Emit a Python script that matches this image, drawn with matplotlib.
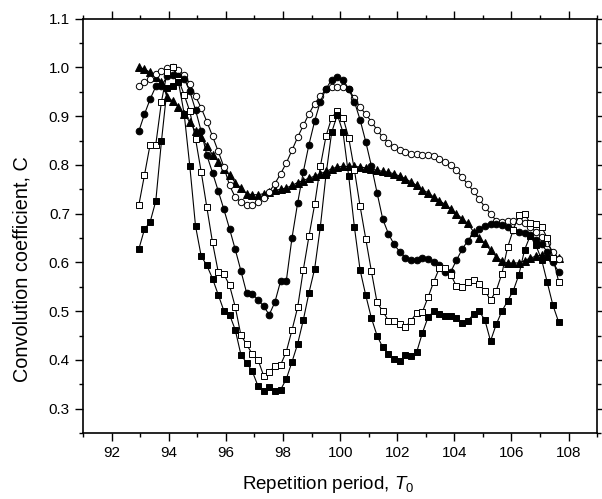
import numpy as np
import matplotlib
matplotlib.use("Agg")
import matplotlib.pyplot as plt
from matplotlib.ticker import MultipleLocator

plt.rcParams["font.family"] = ["Liberation Sans", "DejaVu Sans"]
plt.rcParams["mathtext.fontset"] = "custom"
plt.rcParams["mathtext.rm"] = "Liberation Sans"
plt.rcParams["mathtext.it"] = "Liberation Sans:italic"

# repetition period grid (75 samples)
period = np.linspace(92.95, 107.65, 75)

filled_squares = [
    0.627, 0.668, 0.683, 0.726, 0.849, 0.958, 0.962, 0.970, 0.905, 0.797,
    0.675, 0.613, 0.594, 0.567, 0.534, 0.501, 0.493, 0.462, 0.411, 0.394,
    0.377, 0.347, 0.337, 0.344, 0.337, 0.339, 0.361, 0.396, 0.433, 0.482,
    0.538, 0.587, 0.673, 0.780, 0.867, 0.903, 0.867, 0.777, 0.673, 0.585,
    0.533, 0.486, 0.450, 0.426, 0.412, 0.402, 0.398, 0.410, 0.408, 0.417,
    0.456, 0.488, 0.500, 0.494, 0.490, 0.490, 0.486, 0.475, 0.480, 0.494,
    0.500, 0.482, 0.439, 0.473, 0.500, 0.521, 0.542, 0.575, 0.626, 0.655,
    0.635, 0.606, 0.559, 0.512, 0.478,
]

open_squares = [
    0.717, 0.779, 0.842, 0.842, 0.930, 0.990, 1.000, 0.975, 0.944, 0.910,
    0.854, 0.786, 0.713, 0.641, 0.581, 0.576, 0.553, 0.509, 0.451, 0.432,
    0.412, 0.401, 0.368, 0.376, 0.387, 0.390, 0.417, 0.461, 0.508, 0.585,
    0.654, 0.719, 0.797, 0.859, 0.897, 0.911, 0.897, 0.856, 0.790, 0.716,
    0.649, 0.582, 0.518, 0.500, 0.481, 0.480, 0.473, 0.468, 0.481, 0.497,
    0.499, 0.529, 0.561, 0.589, 0.589, 0.575, 0.551, 0.549, 0.560, 0.565,
    0.555, 0.542, 0.523, 0.542, 0.577, 0.631, 0.667, 0.697, 0.700, 0.680,
    0.678, 0.673, 0.650, 0.610, 0.561,
]

filled_circles = [
    0.869, 0.904, 0.935, 0.961, 0.962, 0.982, 0.985, 0.982, 0.977, 0.951,
    0.913, 0.869, 0.820, 0.784, 0.747, 0.709, 0.669, 0.627, 0.583, 0.538,
    0.535, 0.524, 0.510, 0.493, 0.519, 0.562, 0.562, 0.650, 0.722, 0.786,
    0.842, 0.890, 0.930, 0.956, 0.975, 0.980, 0.975, 0.956, 0.930, 0.893,
    0.848, 0.798, 0.743, 0.689, 0.659, 0.637, 0.622, 0.610, 0.605, 0.606,
    0.609, 0.607, 0.602, 0.594, 0.581, 0.581, 0.605, 0.627, 0.645, 0.660,
    0.669, 0.675, 0.678, 0.678, 0.676, 0.672, 0.667, 0.663, 0.660, 0.656,
    0.647, 0.637, 0.622, 0.600, 0.581,
]

open_circles = [
    0.963, 0.970, 0.977, 0.986, 0.993, 0.999, 1.000, 0.995, 0.984, 0.967,
    0.941, 0.917, 0.889, 0.859, 0.828, 0.796, 0.758, 0.734, 0.724, 0.717,
    0.717, 0.724, 0.733, 0.745, 0.762, 0.782, 0.804, 0.830, 0.857, 0.881,
    0.905, 0.926, 0.941, 0.955, 0.960, 0.960, 0.960, 0.955, 0.937, 0.919,
    0.904, 0.889, 0.872, 0.857, 0.846, 0.837, 0.830, 0.827, 0.823, 0.822,
    0.821, 0.820, 0.818, 0.813, 0.806, 0.800, 0.789, 0.775, 0.760, 0.746,
    0.730, 0.714, 0.700, 0.686, 0.683, 0.685, 0.686, 0.685, 0.681, 0.673,
    0.663, 0.652, 0.639, 0.622, 0.608,
]

filled_triangles = [
    1.000, 0.997, 0.990, 0.980, 0.971, 0.939, 0.931, 0.919, 0.905, 0.888,
    0.869, 0.857, 0.839, 0.821, 0.807, 0.792, 0.779, 0.764, 0.753, 0.741,
    0.739, 0.739, 0.741, 0.745, 0.748, 0.750, 0.753, 0.758, 0.764, 0.768,
    0.773, 0.777, 0.782, 0.787, 0.792, 0.796, 0.797, 0.797, 0.797, 0.796,
    0.794, 0.792, 0.789, 0.787, 0.785, 0.782, 0.777, 0.772, 0.765, 0.758,
    0.749, 0.743, 0.734, 0.727, 0.719, 0.710, 0.700, 0.690, 0.680, 0.663,
    0.651, 0.639, 0.625, 0.612, 0.603, 0.599, 0.599, 0.599, 0.604, 0.609,
    0.613, 0.615, 0.613, 0.611, 0.609,
]

fig = plt.figure(figsize=(6.02, 4.99), dpi=100)
ax = fig.add_axes([0.138, 0.132, 0.854, 0.8305])

common = dict(color="black", linewidth=0.8, markeredgecolor="black",
              markeredgewidth=0.7)
ax.plot(period, filled_triangles, marker="^", markersize=5.3,
        markerfacecolor="black", **common)
ax.plot(period, open_circles, marker="o", markersize=4.6,
        markerfacecolor="white", **common)
ax.plot(period, filled_circles, marker="o", markersize=4.8,
        markerfacecolor="black", **common)
ax.plot(period, open_squares, marker="s", markersize=4,
        markerfacecolor="white", **common)
ax.plot(period, filled_squares, marker="s", markersize=4,
        markerfacecolor="black", **common)

ax.set_xlim(91, 109)
ax.set_ylim(0.25, 1.1)
ax.xaxis.set_major_locator(MultipleLocator(2))
ax.xaxis.set_minor_locator(MultipleLocator(1))
ax.yaxis.set_major_locator(MultipleLocator(0.1))
ax.yaxis.set_minor_locator(MultipleLocator(0.05))
ax.tick_params(which="both", direction="out", top=True, right=True,
               labelsize=11, width=1, pad=4)
ax.tick_params(which="major", length=5.5)
ax.tick_params(which="minor", length=3)
for s in ax.spines.values():
    s.set_linewidth(1.2)

ax.set_xlabel(r"Repetition period, $\mathit{T_0}$", fontsize=13.5)
ax.set_ylabel("Convolution coefficient, C", fontsize=14.3)
ax.xaxis.set_label_coords(0.477, -0.098)
ax.yaxis.set_label_coords(-0.1, 0.395)

fig.savefig("out.png", dpi=100)
